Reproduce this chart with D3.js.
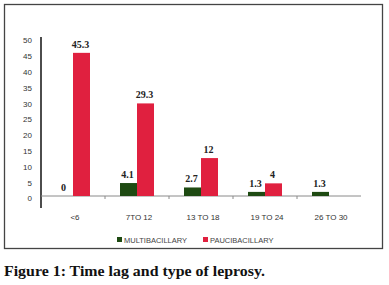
<!DOCTYPE html>
<html>
<head>
<meta charset="utf-8">
<script src="https://cdn.jsdelivr.net/npm/d3@7"></script>
<style>
  body { margin: 0; background: #fff; }
  svg { display: block; }
</style>
</head>
<body>
<div id="chart"></div>
<script>
// Data
const categories = ["<6", "7TO 12", "13 TO 18", "19 TO 24", "26 TO 30"];
const seriesNames = ["MULTIBACILLARY", "PAUCIBACILLARY"];
const multibacillary = [0, 4.1, 2.7, 1.3, 1.3];
const paucibacillary = [45.3, 29.3, 12, 4, null];
const yTicks = [0, 5, 10, 15, 20, 25, 30, 35, 40, 45, 50];
const colors = ["#1e4a12", "#e0203f"];

const width = 389, height = 285;

const svg = d3.select("#chart")
    .append("svg")
    .attr("width", width)
    .attr("height", height);

// Frame round the chart
svg.append("rect")
    .attr("x", 4.5).attr("y", 4.5)
    .attr("width", 378).attr("height", 244)
    .attr("fill", "none")
    .attr("stroke", "#444")
    .attr("stroke-width", 1.3);

// Scales
const x = d3.scaleBand()
    .domain(categories)
    .range([41, 361]);

const y = d3.scaleLinear()
    .domain([0, 50])
    .range([196, 38]);

// Y axis: labels only, line drawn by hand (it runs past the baseline)
svg.append("g")
    .attr("transform", "translate(41,0)")
    .call(d3.axisLeft(y).tickValues(yTicks).tickSize(0).tickPadding(9))
    .call(g => g.select(".domain").remove())
    .selectAll("text")
    .attr("dy", "0.6em")
    .style("font-family", "Liberation Sans, Arial, sans-serif")
    .style("font-size", "8px")
    .attr("fill", "#333");

svg.append("line")
    .attr("x1", 41).attr("x2", 41)
    .attr("y1", 37).attr("y2", 208)
    .attr("stroke", "#000")
    .attr("stroke-width", 1.4);

// Baseline with small ticks between groups
svg.append("line")
    .attr("x1", 41).attr("x2", 361)
    .attr("y1", y(0)).attr("y2", y(0))
    .attr("stroke", "#8a8a8a")
    .attr("stroke-width", 1);

svg.selectAll(".sep")
    .data(categories.slice(1))
    .join("line")
    .attr("x1", d => x(d)).attr("x2", d => x(d))
    .attr("y1", y(0)).attr("y2", y(0) + 3)
    .attr("stroke", "#8a8a8a");

// Bars
const barW = 17;
const rows = categories.map((c, i) => ({ cat: c, values: [multibacillary[i], paucibacillary[i]] }));

const groups = svg.selectAll(".grp")
    .data(rows)
    .join("g")
    .attr("transform", d => `translate(${x(d.cat) + x.bandwidth() / 2},0)`);

const inner = d3.scaleBand()
    .domain([0, 1])
    .range([-barW, barW]);

groups.selectAll("rect")
    .data(d => d.values.map((v, k) => ({ v, k })).filter(e => e.v !== null && e.v > 0))
    .join("rect")
    .attr("x", e => inner(e.k))
    .attr("width", inner.bandwidth())
    .attr("y", e => y(e.v))
    .attr("height", e => y(0) - y(e.v))
    .attr("fill", e => colors[e.k]);

// Value labels
groups.selectAll(".val")
    .data(d => d.values.map((v, k) => ({ v, k })).filter(e => e.v !== null))
    .join("text")
    .attr("x", e => inner(e.k) + inner.bandwidth() / 2 - 1)
    .attr("y", e => y(e.v) - 5)
    .attr("text-anchor", "middle")
    .style("font-family", "Liberation Serif, serif")
    .style("font-weight", "bold")
    .style("font-size", "10px")
    .attr("fill", "#222")
    .text(e => e.v);

// Category labels
svg.selectAll(".cat")
    .data(categories)
    .join("text")
    .attr("x", d => x(d) + x.bandwidth() / 2 + 2)
    .attr("y", 220)
    .attr("text-anchor", "middle")
    .style("font-family", "Liberation Sans, Arial, sans-serif")
    .style("font-size", "8px")
    .attr("fill", "#333")
    .text(d => d);

// Legend
const legendX = [117, 203];
const legend = svg.selectAll(".leg")
    .data(seriesNames)
    .join("g")
    .attr("transform", (d, i) => `translate(${legendX[i]},240)`);

legend.append("rect")
    .attr("x", 0).attr("y", -3)
    .attr("width", 5).attr("height", 5)
    .attr("fill", (d, i) => colors[i]);

legend.append("text")
    .attr("x", 7).attr("y", 2.5)
    .style("font-family", "Liberation Sans, Arial, sans-serif")
    .style("font-size", "7.5px")
    .attr("fill", "#444")
    .text(d => d);

// Caption
svg.append("text")
    .attr("x", 4).attr("y", 276)
    .attr("textLength", 261)
    .attr("lengthAdjust", "spacingAndGlyphs")
    .style("font-family", "Liberation Serif, serif")
    .style("font-weight", "bold")
    .style("font-size", "14.5px")
    .attr("fill", "#111")
    .text("Figure 1: Time lag and type of leprosy.");
</script>
</body>
</html>
